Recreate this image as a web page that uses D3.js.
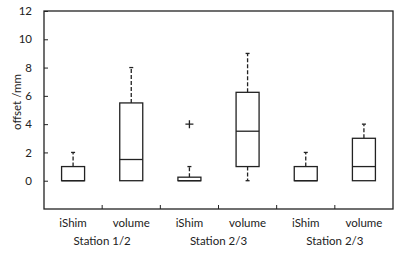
<!DOCTYPE html>
<html>
<head>
<meta charset="utf-8">
<script src="https://cdn.jsdelivr.net/npm/d3@7"></script>
<style>
  body { margin: 0; background: #fff; }
  text { font-family: Lato, "Liberation Sans", sans-serif; fill: #222; }
</style>
</head>
<body>
<div id="chart"></div>
<script>
// box plot data
var categories = ["iShim", "volume", "iShim", "volume", "iShim", "volume"];
var stations = ["Station 1/2", "Station 2/3", "Station 2/3"];
var mins    = [0, 0, 0,    0,    0, 0];
var q1s     = [0, 0, 0,    1,    0, 0];
var medians = [0, 1.5, 0,  3.5,  0, 1];
var q3s     = [1, 5.5, 0.25, 6.25, 1, 3];
var maxs    = [2, 8, 1,    9,    2, 4];
var outliers = [[], [], [4], [], [], []];
var y_ticks = [0, 2, 4, 6, 8, 10, 12];

var total_width = 400, total_height = 259;
var margin = {top: 11, right: 7, bottom: 50, left: 44},
    width = total_width - margin.left - margin.right,
    height = total_height - margin.top - margin.bottom;

var svg = d3.select("#chart").append("svg")
    .attr("width", total_width)
    .attr("height", total_height)
  .append("g")
    .attr("transform", "translate(" + margin.left + "," + margin.top + ")");

var x = d3.scaleBand()
    .domain(d3.range(categories.length))
    .range([0, width]);

var y = d3.scaleLinear()
    .domain([-2, 12])
    .range([height, 0]);

// frame
svg.append("rect")
    .attr("width", width)
    .attr("height", height)
    .attr("fill", "none")
    .attr("stroke", "#222")
    .attr("stroke-width", 1.3);

// y axis, ticks point inward
var yAxis = svg.append("g")
    .call(d3.axisLeft(y).tickValues(y_ticks).tickSizeInner(-4).tickSizeOuter(0).tickPadding(12));
yAxis.select(".domain").remove();
yAxis.selectAll("line").attr("stroke", "#222");
yAxis.selectAll("text").style("font-size", "11.5px").style("font-family", "Lato, sans-serif").attr("fill", "#222");

// bottom category boundaries
svg.selectAll(".xtick")
    .data(d3.range(1, categories.length))
    .enter().append("line")
      .attr("x1", function(d) { return x(d); })
      .attr("x2", function(d) { return x(d); })
      .attr("y1", height)
      .attr("y2", height - 4)
      .attr("stroke", "#222");

// category labels
svg.selectAll(".cat")
    .data(categories)
    .enter().append("text")
      .attr("x", function(d, i) { return x(i) + x.bandwidth() / 2; })
      .attr("y", height + 18)
      .attr("text-anchor", "middle")
      .style("font-size", "11.5px")
      .text(function(d) { return d; });

svg.selectAll(".station")
    .data(stations)
    .enter().append("text")
      .attr("x", function(d, i) { return x(i * 2 + 1); })
      .attr("y", height + 36)
      .attr("text-anchor", "middle")
      .style("font-size", "11.5px")
      .text(function(d) { return d; });

// axis title
svg.append("text")
    .attr("transform", "rotate(-90)")
    .attr("x", -(102 - margin.top))
    .attr("y", -23)
    .attr("text-anchor", "middle")
    .style("font-size", "11.5px")
    .text("offset /mm");

// boxes
var boxW = 23, capW = 4;
categories.forEach(function(c, i) {
  var cx = x(i) + x.bandwidth() / 2;
  var g = svg.append("g");

  // whiskers
  if (maxs[i] > q3s[i]) {
    g.append("line")
        .attr("x1", cx).attr("x2", cx)
        .attr("y1", y(q3s[i])).attr("y2", y(maxs[i]))
        .attr("stroke", "#222").attr("stroke-width", 1.3)
        .attr("stroke-dasharray", "4,2");
    g.append("line")
        .attr("x1", cx - capW / 2).attr("x2", cx + capW / 2)
        .attr("y1", y(maxs[i])).attr("y2", y(maxs[i]))
        .attr("stroke", "#222").attr("stroke-width", 1.3);
  }
  if (mins[i] < q1s[i]) {
    g.append("line")
        .attr("x1", cx).attr("x2", cx)
        .attr("y1", y(q1s[i])).attr("y2", y(mins[i]))
        .attr("stroke", "#222").attr("stroke-width", 1.3)
        .attr("stroke-dasharray", "4,2");
    g.append("line")
        .attr("x1", cx - capW / 2).attr("x2", cx + capW / 2)
        .attr("y1", y(mins[i])).attr("y2", y(mins[i]))
        .attr("stroke", "#222").attr("stroke-width", 1.3);
  }

  g.append("rect")
      .attr("x", cx - boxW / 2)
      .attr("y", y(q3s[i]))
      .attr("width", boxW)
      .attr("height", y(q1s[i]) - y(q3s[i]))
      .attr("fill", "#fff")
      .attr("stroke", "#222")
      .attr("stroke-width", 1.3);

  g.append("line")
      .attr("x1", cx - boxW / 2).attr("x2", cx + boxW / 2)
      .attr("y1", y(medians[i])).attr("y2", y(medians[i]))
      .attr("stroke", "#222").attr("stroke-width", 1.3);

  // outliers sit on the box centre line
  outliers[i].forEach(function(o) {
    var oy = y(o);
    g.append("path")
        .attr("d", "M" + (cx - 4) + "," + oy + "H" + (cx + 4) + "M" + cx + "," + (oy - 4) + "V" + (oy + 4))
        .attr("stroke", "#222").attr("stroke-width", 1.3);
  });
});
</script>
</body>
</html>
